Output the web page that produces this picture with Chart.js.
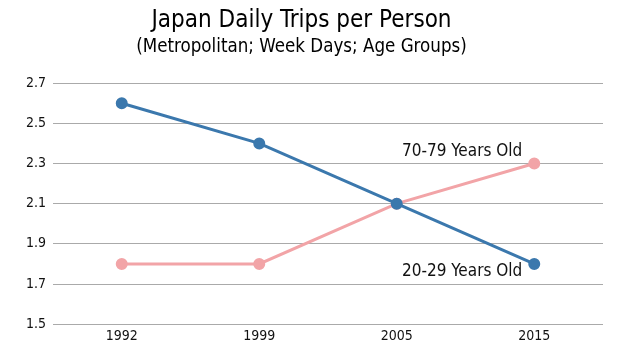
<!DOCTYPE html>
<html>
<head>
<meta charset="utf-8">
<script src="https://cdn.jsdelivr.net/npm/chart.js@4"></script>
<style>
  body { margin: 0; background: #fff; }
  canvas { display: block; }
</style>
</head>
<body>
<canvas id="tripsChart" width="630" height="350"></canvas>
<script>
const years = ['1992', '1999', '2005', '2015'];
const trips2029 = [2.6, 2.4, 2.1, 1.8];
const trips7079 = [1.8, 1.8, 2.1, 2.3];
const yTicks = [1.5, 1.7, 1.9, 2.1, 2.3, 2.5, 2.7];

const FONT = '"Liberation Sans Narrow", "DejaVu Sans Condensed", Roboto, sans-serif';
const blue = '#3b78ad';
const pink = '#f2a4a7';

// series labels next to the last point
const endLabels = {
  id: 'endLabels',
  afterDatasetsDraw(chart) {
    const { ctx } = chart;
    ctx.save();
    ctx.font = '17px ' + FONT;
    ctx.fillStyle = '#111';
    ctx.textAlign = 'right';
    ctx.textBaseline = 'middle';
    chart.data.datasets.forEach((ds, i) => {
      const pts = chart.getDatasetMeta(i).data;
      const last = pts[pts.length - 1];
      const dy = ds.labelAbove ? -12 : 8;
      ctx.fillText(ds.label, last.x - 12, last.y + dy);
    });
    ctx.restore();
  }
};

new Chart(document.getElementById('tripsChart'), {
  type: 'line',
  data: {
    labels: years,
    datasets: [
      {
        label: '20-29 Years Old',
        data: trips2029,
        borderColor: blue,
        backgroundColor: blue,
        borderWidth: 3,
        pointRadius: 4.5,
        pointHoverRadius: 4.5,
        labelAbove: false
      },
      {
        label: '70-79 Years Old',
        data: trips7079,
        borderColor: pink,
        backgroundColor: pink,
        borderWidth: 3,
        pointRadius: 4.5,
        pointHoverRadius: 4.5,
        labelAbove: true
      }
    ]
  },
  options: {
    responsive: false,
    animation: false,
    layout: { padding: { left: 0, right: 27, top: 0, bottom: 1 } },
    plugins: {
      legend: { display: false },
      tooltip: { enabled: false },
      title: {
        display: true,
        text: 'Japan Daily Trips per Person',
        color: '#000',
        font: { family: FONT, size: 24, weight: 'normal' },
        padding: { top: 6, bottom: 0 }
      },
      subtitle: {
        display: true,
        text: '(Metropolitan; Week Days; Age Groups)',
        color: '#000',
        font: { family: FONT, size: 18.6, weight: 'normal' },
        padding: { top: 1, bottom: 25 }
      }
    },
    scales: {
      x: {
        offset: true,
        grid: { display: false, drawTicks: false },
        border: { display: false },
        ticks: { color: '#111', font: { family: FONT, size: 14 }, padding: 4 }
      },
      y: {
        min: 1.5,
        max: 2.7,
        afterBuildTicks: s => { s.ticks = yTicks.map(v => ({ value: v })); },
        afterFit: s => { s.width = 53; },
        grid: { color: '#aaa', lineWidth: 1, drawTicks: false },
        border: { display: false },
        ticks: {
          color: '#111',
          font: { family: FONT, size: 14 },
          padding: 7,
          callback: v => v.toFixed(1)
        }
      }
    }
  },
  plugins: [endLabels]
});
</script>
</body>
</html>
